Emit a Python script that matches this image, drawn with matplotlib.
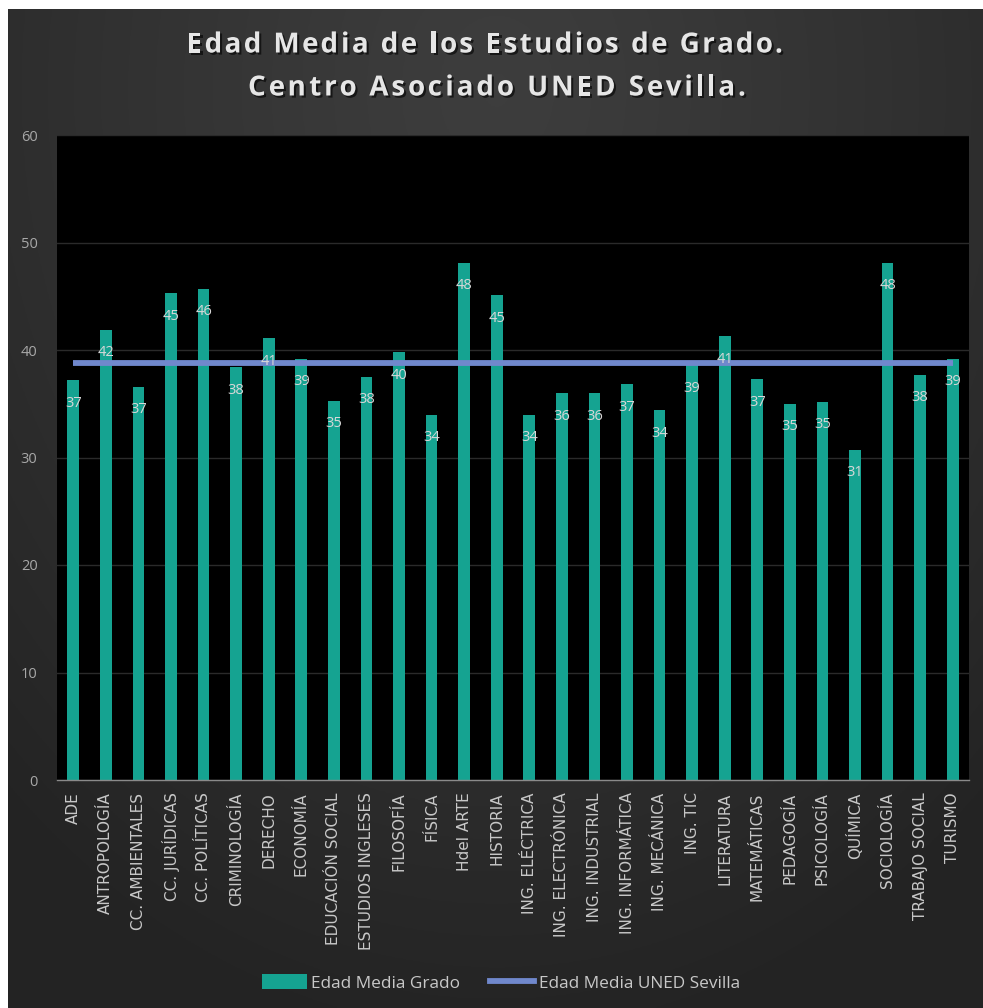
import numpy as np
import matplotlib
matplotlib.use("Agg")
import matplotlib.pyplot as plt
import matplotlib.patheffects as pe
from matplotlib.lines import Line2D
from matplotlib.patches import Patch

categories = ["ADE", "ANTROPOLOGÍA", "CC. AMBIENTALES", "CC. JURÍDICAS", "CC. POLÍTICAS",
              "CRIMINOLOGÍA", "DERECHO", "ECONOMÍA", "EDUCACIÓN SOCIAL", "ESTUDIOS INGLESES",
              "FILOSOFÍA", "FÍSICA", "Hdel ARTE", "HISTORIA", "ING. ELÉCTRICA",
              "ING. ELECTRÓNICA", "ING. INDUSTRIAL", "ING. INFORMÁTICA", "ING. MECÁNICA", "ING. TIC",
              "LITERATURA", "MATEMÁTICAS", "PEDAGOGÍA", "PSICOLOGÍA", "QUÍMICA",
              "SOCIOLOGÍA", "TRABAJO SOCIAL", "TURISMO"]
edad_grado = [37.2, 41.9, 36.6, 45.3, 45.7, 38.4, 41.1, 39.2, 35.3, 37.5,
              39.8, 34.0, 48.1, 45.1, 34.0, 36.0, 36.0, 36.8, 34.4, 38.6,
              41.3, 37.3, 35.0, 35.2, 30.7, 48.1, 37.7, 39.2]
edad_uned = 38.75
yticks = [0, 10, 20, 30, 40, 50, 60]
title_lines = ["Edad Media de los Estudios de Grado.", "Centro Asociado UNED Sevilla."]

W, H = 983, 1008
fig = plt.figure(figsize=(W / 100, H / 100), dpi=100)
fig.patch.set_facecolor("white")

# background gradient panel (white margin top & left)
bg = fig.add_axes([8 / W, 0, 1 - 8 / W, 1 - 9 / H])
bg.set_axis_off()
ny, nx = 400, 400
yy, xx = np.mgrid[0:ny, 0:nx]
cx, cy = nx * 0.5, ny * 0.08
d = np.sqrt(((xx - cx) / (nx * 0.75)) ** 2 + ((yy - cy) / (ny * 0.95)) ** 2)
d = np.clip(d, 0, 1)
c_in, c_out = 0.24, 0.14
g = c_in + (c_out - c_in) * d ** 1.2
img = np.dstack([g, g, g])
bg.imshow(img, aspect="auto", extent=[0, 1, 0, 1], origin="upper")
bg.set_xlim(0, 1)
bg.set_ylim(0, 1)

ax = fig.add_axes([57 / W, 1 - 780 / H, (969 - 57) / W, (780 - 135) / H])
ax.set_facecolor("black")
x = np.arange(len(categories))
ax.bar(x, edad_grado, width=0.36, color="#15a391", zorder=2, label="Edad Media Grado")
ax.plot(x, [edad_uned] * len(x), color="#7088cc", lw=4.2, zorder=3,
        solid_capstyle="butt", label="Edad Media UNED Sevilla")

for xi, v in zip(x, edad_grado):
    ax.annotate(f"{v:.0f}", (xi, v), xytext=(0, -23), textcoords="offset pixels",
                ha="center", va="center", color="#d8d8d8", fontsize=10.5,
                family="Open Sans", zorder=4)

ax.set_xlim(-0.5, len(categories) - 0.5)
ax.set_ylim(0, 60)
ax.set_yticks(yticks)
ax.yaxis.grid(True, color="#2a2a2a", lw=1)
ax.set_axisbelow(True)
ax.set_xticks(x)
ax.set_xticklabels(categories, rotation=90, color="#c8c8c8", fontsize=11, family="DejaVu Sans")
for lab in ax.get_yticklabels():
    lab.set_color("#a8a8a8")
    lab.set_fontsize(10.5)
    lab.set_family("Open Sans")
ax.tick_params(axis="both", length=0)
ax.tick_params(axis="y", pad=14)
ax.tick_params(axis="x", pad=9)
for s in ["top", "left", "right"]:
    ax.spines[s].set_visible(False)
ax.spines["bottom"].set_color("#8a8a8a")
ax.spines["bottom"].set_linewidth(1)

# spaced title
renderer = fig.canvas.get_renderer()
shadow = [pe.withSimplePatchShadow(offset=(1.5, -1.5), shadow_rgbFace="black", alpha=0.6)]
tkw = dict(fontsize=20, fontweight="bold", family="Open Sans")


def text_w(s):
    t = fig.text(0, 0, s, **tkw)
    w = t.get_window_extent(renderer).width
    t.remove()
    return w


def spaced_title(s, xc_px, y_px, sp):
    wx = text_w("x")
    pos = [text_w(s[:i] + "x") - wx if i > 0 else 0 for i in range(len(s))]
    total = text_w(s) + sp * (len(s) - 1)
    x0 = xc_px - total / 2
    for i, ch in enumerate(s):
        if ch == " ":
            continue
        fig.text((x0 + pos[i] + i * sp) / W, 1 - y_px / H, ch, ha="left", va="center",
                 color="#e6e6e6", path_effects=shadow, **tkw)


spaced_title(title_lines[0], 485, 45, 2.4)
spaced_title(title_lines[1], 497, 88, 2.9)

handles = [Patch(facecolor="#15a391", edgecolor="none"),
           Line2D([0], [0], color="#7088cc", lw=4.2)]
leg = fig.legend(handles, ["Edad Media Grado", "Edad Media UNED Sevilla"],
                 loc="center", bbox_to_anchor=(501 / W, 1 - 983 / H), ncol=2, frameon=False,
                 handlelength=2.6, handleheight=0.9, columnspacing=1.7,
                 handletextpad=0.25, prop={"family": "Open Sans", "size": 12.4})
for t in leg.get_texts():
    t.set_color("#c8c8c8")

fig.savefig("out.png", dpi=100, facecolor=fig.get_facecolor())
